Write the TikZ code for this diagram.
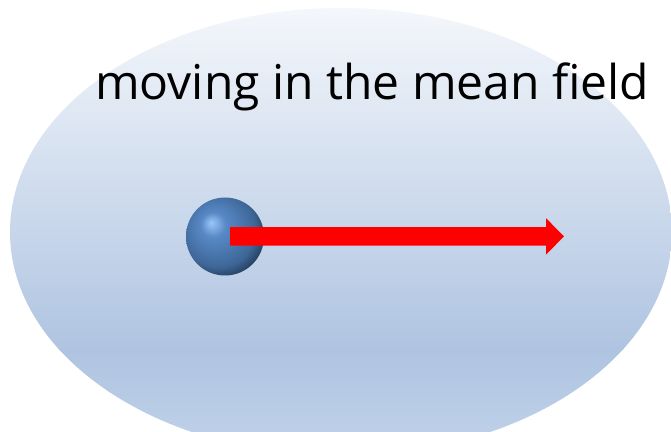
\documentclass[tikz,border=0pt]{standalone}
\usepackage{fontspec}
\setmainfont{Open Sans}
\definecolor{elltop}{HTML}{F4F7FB}
\definecolor{ellmid}{HTML}{AFC4E1}
\definecolor{ellbot}{HTML}{C2D3EA}
\definecolor{ballhl}{HTML}{9AC6FA}
\definecolor{ballmid}{HTML}{5889C6}
\definecolor{balldark}{HTML}{3E6798}
\definecolor{balledge}{HTML}{1E3550}
\definecolor{arrowred}{HTML}{FF0000}
\pgfdeclareradialshading{ballshade}{\pgfpoint{-9bp}{9bp}}{%
  color(0bp)=(ballhl); color(8bp)=(ballmid); color(24bp)=(balldark);
  color(32bp)=(balledge); color(36bp)=(balledge); color(50bp)=(balledge)}
\tikzset{
  labeltext/.style={inner sep=0pt, anchor=base west, font=\fontsize{48}{57}\selectfont, text=black},
  ballnode/.style={circle, minimum size=78pt, inner sep=0pt, shading=ballshade},
  arrowfill/.style={fill=arrowred}
}
\begin{document}
\begin{tikzpicture}[x=1pt,y=1pt]
\useasboundingbox (0,0) rectangle (671,431);
\fill[white] (0,0) rectangle (671,431);
\begin{scope}
  \clip (341,199) ellipse [x radius=331, y radius=224];
  \shade[top color=elltop, bottom color=ellmid] (0,423.5) rectangle (671,81);
  \shade[top color=ellmid, bottom color=ellbot] (0,81.01) rectangle (671,-26);
\end{scope}
\node[labeltext] (label) at (95,331) {moving in the mean field};
\node[ballnode] (ball) at (225,194.5) {};
\coordinate (start) at (230,194.6);
\coordinate (tip) at (564,194.6);
\fill[arrowfill] (start) ++(0,9.3) -- ++(316,0) -- ++(0,8.9) -- (tip)
  -- ++(-18,-18.2) -- ++(0,8.9) -- ++(-316,0) -- cycle;
\end{tikzpicture}
\end{document}
